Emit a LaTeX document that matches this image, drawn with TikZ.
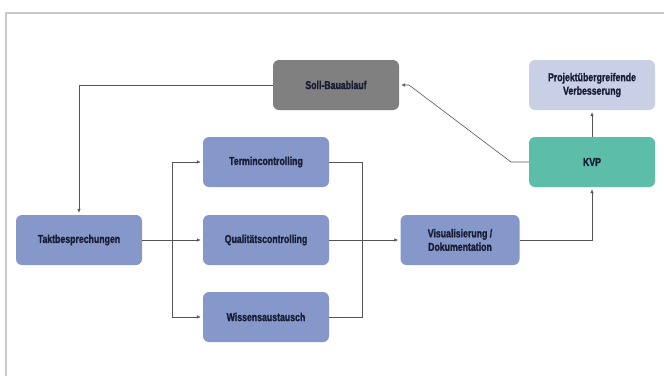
\documentclass[tikz,border=0pt]{standalone}
\usepackage{fontspec}
\setmainfont{Liberation Sans}
\newfontfamily\boxfont[FakeStretch=0.76,FakeBold=1.2]{Liberation Sans Bold}
\usetikzlibrary{arrows.meta}

\definecolor{boxblue}{RGB}{134,152,202}
\definecolor{boxgray}{RGB}{128,128,128}
\definecolor{boxlight}{RGB}{201,208,229}
\definecolor{boxteal}{RGB}{92,190,168}
\definecolor{textdark}{RGB}{24,28,52}
\definecolor{linegray}{RGB}{85,85,85}
\definecolor{framegray}{RGB}{200,200,200}

\begin{document}
\begin{tikzpicture}[x=1pt,y=-1pt,
	box/.style={rounded corners=6pt, minimum width=126pt, minimum height=50pt,
		align=center, inner sep=2pt, text=textdark,
		font=\boxfont\fontsize{11.5}{13.5}\selectfont},
	linie/.style={draw=linegray, line width=0.6pt},
	pfeil/.style={linie, -{Latex[length=4pt,width=3.5pt]}, shorten >=2pt}]
	\useasboundingbox (0,0) rectangle (664,376);
	\draw[framegray, line width=1.5pt] (6,376) |- (664,13);
	% Knoten
	\node[box, fill=boxgray] (soll) at (336,85) {Soll-Bauablauf};
	\node[box, fill=boxlight] (projekt) at (592,85) {Projektübergreifende\\Verbesserung};
	\node[box, fill=boxblue] (termin) at (266,162) {Termincontrolling};
	\node[box, fill=boxteal] (kvp) at (592,162) {KVP};
	\node[box, fill=boxblue] (takt) at (79,240) {Taktbesprechungen};
	\node[box, fill=boxblue] (qual) at (266,240) {Qualitätscontrolling};
	\node[box, fill=boxblue, minimum width=119pt] (visu) at (460,240) {Visualisierung /\\Dokumentation};
	\node[box, fill=boxblue] (wissen) at (266,317) {Wissensaustausch};
	\coordinate (split) at (172,240);
	\coordinate (merge) at (362,240);
	\coordinate (knick1) at (511,162);
	\coordinate (knick2) at (409,85);
	% Verbindungen
	\draw[pfeil] (soll.west) -| (takt.north);
	\draw[pfeil] (takt.east) -- (qual.west);
	\draw[pfeil] (split) |- (termin.west);
	\draw[pfeil] (split) |- (wissen.west);
	\draw[linie] (termin.east) -| (merge);
	\draw[linie] (wissen.east) -| (merge);
	\draw[pfeil] (qual.east) -- (visu.west);
	\draw[pfeil] (visu.east) -| (kvp.south);
	\draw[pfeil] (kvp.north) -- (projekt.south);
	\draw[pfeil] (kvp.west) -- (knick1) -- (knick2) -- (soll.east);
\end{tikzpicture}
\end{document}
